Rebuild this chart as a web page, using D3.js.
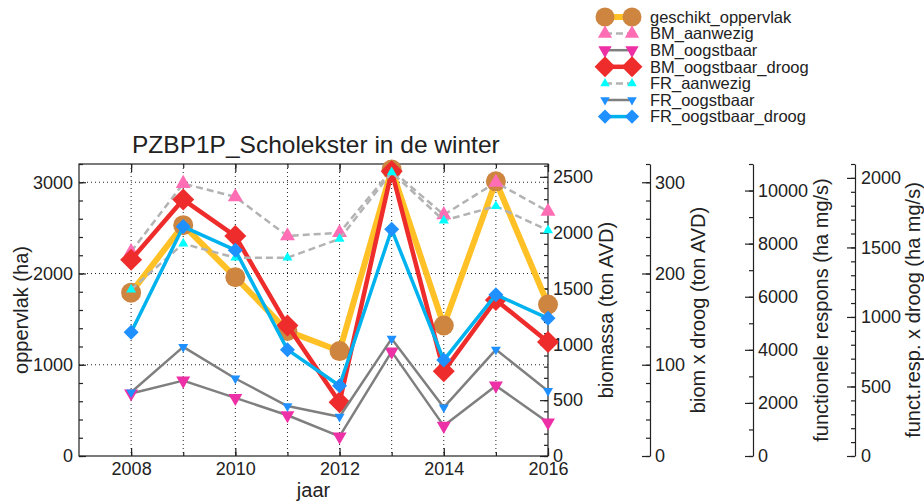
<!DOCTYPE html>
<html>
<head>
<meta charset="utf-8">
<script src="https://cdn.jsdelivr.net/npm/d3@7"></script>
<style>
  body { margin: 0; background: #fff; }
  svg { font-family: "Liberation Sans", Arial, sans-serif; }
</style>
</head>
<body>
<div class="canvas"></div>
<script>
// data
const years = [2008, 2009, 2010, 2011, 2012, 2013, 2014, 2015, 2016];
const geschiktOppervlak = [1790, 2530, 1960, 1370, 1150, 3140, 1430, 3010, 1660]; // ha
const bmAanwezig = [1830, 2440, 2320, 1970, 2000, 2560, 2160, 2450, 2190]; // ton AVD
const bmOogstbaar = [560, 675, 520, 365, 175, 935, 270, 630, 300]; // ton AVD
const bmOogstbaarDroog = [215, 281, 241, 143, 59, 312, 93, 171, 125]; // ton AVD
const frAanwezig = [6270, 8000, 7470, 7470, 8180, 10690, 8870, 9410, 8500]; // ha mg/s
const frOogstbaar = [2400, 4110, 2920, 1880, 1480, 4420, 1830, 4010, 2450]; // ha mg/s
const frOogstbaarDroog = [890, 1650, 1480, 765, 505, 1630, 690, 1160, 990]; // ha mg/s

const xTicks = [2008, 2010, 2012, 2014, 2016];
const oppTicks = [0, 1000, 2000, 3000];
const biomTicks = [0, 500, 1000, 1500, 2000, 2500];
const droogTicks = [0, 100, 200, 300];
const frTicks = [0, 2000, 4000, 6000, 8000, 10000];
const frDroogTicks = [0, 500, 1000, 1500, 2000];

const title = "PZBP1P_Scholekster in de winter";

// dimensions
const w = 924;
const h = 501;
const plot = { left: 79, right: 548, top: 164, bottom: 456 };

const svg = d3.select(".canvas").append("svg").attr("width", w).attr("height", h);

// scales
const x = d3.scaleLinear().domain([2007, 2016]).range([plot.left, plot.right]);
const yOpp = d3.scaleLinear().domain([0, 3200]).range([plot.bottom, plot.top]);
const yBiom = d3.scaleLinear().domain([0, 2615]).range([plot.bottom, plot.top]);
const yDroog = d3.scaleLinear().domain([0, 320]).range([plot.bottom, plot.top]);
const yFr = d3.scaleLinear().domain([0, 11000]).range([plot.bottom, plot.top]);
const yFrDroog = d3.scaleLinear().domain([0, 2100]).range([plot.bottom, plot.top]);

// grid
const grid = svg.append("g");
grid.selectAll("line.v")
  .data(years.slice(0, -1))
  .enter().append("line")
  .attr("x1", (d) => x(d)).attr("x2", (d) => x(d))
  .attr("y1", plot.top).attr("y2", plot.bottom)
  .attr("stroke", "#222").attr("stroke-dasharray", "1,3");
grid.selectAll("line.h")
  .data(oppTicks.slice(1))
  .enter().append("line")
  .attr("x1", plot.left).attr("x2", plot.right)
  .attr("y1", (d) => yOpp(d)).attr("y2", (d) => yOpp(d))
  .attr("stroke", "#222").attr("stroke-dasharray", "1,3");

// axis helper: major ticks with labels, minor ticks without
const addAxis = (axisFn, scale, major, minor, tx, ty, bigSize, smallSize, pad, keepDomain) => {
  const g = svg.append("g").attr("transform", `translate(${tx}, ${ty})`);
  g.append("g").call(axisFn(scale).tickValues(minor).tickSize(smallSize).tickSizeOuter(0).tickFormat(""))
    .call((s) => s.select(".domain").remove());
  const a = g.append("g")
    .call(axisFn(scale).tickValues(major).tickSize(bigSize).tickSizeOuter(0).tickPadding(pad).tickFormat(d3.format("d")));
  if (!keepDomain) a.select(".domain").remove();
  g.selectAll("line, path").attr("stroke", "#222").attr("stroke-width", 1.2);
  g.selectAll("text").attr("font-size", 18).attr("fill", "#222").attr("font-family", "Liberation Sans, Arial, sans-serif");
  return g;
};

// bottom and top
addAxis(d3.axisBottom, x, xTicks, years, 0, plot.bottom, -8, -4, 6, false);
addAxis(d3.axisTop, x, xTicks, years, 0, plot.top, -8, -4, 6, false).selectAll("text").remove();
// left
addAxis(d3.axisLeft, yOpp, oppTicks, d3.range(0, 3201, 200), plot.left, 0, -7, -4, 6, false);
// right axes
addAxis(d3.axisRight, yBiom, biomTicks, d3.range(0, 2601, 100), plot.right, 0, -8, -4, 5, false);
addAxis(d3.axisRight, yDroog, droogTicks, d3.range(0, 321, 20), 650, 0, -8, -4, 5, true);
addAxis(d3.axisRight, yFr, frTicks, d3.range(0, 11001, 1000), 753, 0, -8, -4, 5, true);
addAxis(d3.axisRight, yFrDroog, frDroogTicks, d3.range(0, 2101, 100), 855, 0, -8, -4, 6, true);

// frame
svg.append("rect")
  .attr("x", plot.left).attr("y", plot.top)
  .attr("width", plot.right - plot.left).attr("height", plot.bottom - plot.top)
  .attr("fill", "none").attr("stroke", "#222").attr("stroke-width", 1.2);

// markers
const shapes = {
  circle: (s) => `M${-s / 2},0a${s / 2},${s / 2} 0 1,0 ${s},0a${s / 2},${s / 2} 0 1,0 ${-s},0Z`,
  up: (s) => `M0,${-s * 0.58}L${s / 2},${s * 0.29}L${-s / 2},${s * 0.29}Z`,
  down: (s) => `M0,${s * 0.58}L${s / 2},${-s * 0.29}L${-s / 2},${-s * 0.29}Z`,
  diamond: (s) => `M0,${-s / 2}L${s / 2},0L0,${s / 2}L${-s / 2},0Z`,
};

const series = [
  { name: "geschikt_oppervlak", values: geschiktOppervlak, y: yOpp, line: "#FFC125", width: 6, dash: null, shape: "circle", size: 20, fill: "#CD853F" },
  { name: "BM_aanwezig", values: bmAanwezig, y: yBiom, line: "#B3B3B3", width: 2.5, dash: "7,4", shape: "up", size: 15, fill: "#FF6EB4" },
  { name: "BM_oogstbaar", values: bmOogstbaar, y: yBiom, line: "#7F7F7F", width: 2.5, dash: null, shape: "down", size: 14, fill: "#EE30A7" },
  { name: "BM_oogstbaar_droog", values: bmOogstbaarDroog, y: yDroog, line: "#EE2C2C", width: 4.5, dash: null, shape: "diamond", size: 22, fill: "#EE2C2C" },
  { name: "FR_aanwezig", values: frAanwezig, y: yFr, line: "#B3B3B3", width: 2.5, dash: "7,4", shape: "up", size: 10, fill: "#00FFFF" },
  { name: "FR_oogstbaar", values: frOogstbaar, y: yFr, line: "#7F7F7F", width: 2.5, dash: null, shape: "down", size: 10, fill: "#1E90FF" },
  { name: "FR_oogstbaar_droog", values: frOogstbaarDroog, y: yFrDroog, line: "#00B2EE", width: 3.5, dash: null, shape: "diamond", size: 15, fill: "#1E90FF" },
];

const chart = svg.append("g");
series.forEach((s) => {
  const pts = years.map((yr, i) => [x(yr), s.y(s.values[i])]);
  chart.append("path")
    .attr("d", d3.line()(pts))
    .attr("fill", "none")
    .attr("stroke", s.line)
    .attr("stroke-width", s.width)
    .attr("stroke-linejoin", "round")
    .attr("stroke-dasharray", s.dash);
  chart.selectAll(null)
    .data(pts)
    .enter().append("path")
    .attr("transform", (d) => `translate(${d[0]}, ${d[1]})`)
    .attr("d", shapes[s.shape](s.size))
    .attr("fill", s.fill);
});

// legend
const legend = svg.append("g");
series.forEach((s, i) => {
  const ly = 17 + i * 16.6;
  legend.append("line")
    .attr("x1", 605).attr("x2", 632).attr("y1", ly).attr("y2", ly)
    .attr("stroke", s.line).attr("stroke-width", s.width).attr("stroke-dasharray", s.dash);
  [605, 632].forEach((lx) => {
    legend.append("path")
      .attr("transform", `translate(${lx}, ${ly})`)
      .attr("d", shapes[s.shape](s.size * 0.95))
      .attr("fill", s.fill);
  });
  legend.append("text")
    .attr("x", 650).attr("y", ly).attr("dy", "0.35em")
    .attr("font-size", 16.5).attr("fill", "#222")
    .text(s.name);
});

// title and axis titles
svg.append("text")
  .attr("x", 132).attr("y", 153)
  .attr("font-size", 24.5).attr("fill", "#222")
  .text(title);

svg.append("text")
  .attr("x", (plot.left + plot.right) / 2).attr("y", 497)
  .attr("text-anchor", "middle").attr("font-size", 20).attr("fill", "#222")
  .text("jaar");

const yTitles = [
  { text: "oppervlak (ha)", x: 27.5 },
  { text: "biomassa (ton AVD)", x: 613 },
  { text: "biom x droog (ton AVD)", x: 705 },
  { text: "functionele respons (ha mg/s)", x: 828 },
  { text: "funct.resp. x droog (ha mg/s)", x: 920 },
];
yTitles.forEach((t) => {
  svg.append("text")
    .attr("transform", `translate(${t.x}, ${(plot.top + plot.bottom) / 2}) rotate(-90)`)
    .attr("text-anchor", "middle").attr("font-size", 20).attr("fill", "#222")
    .text(t.text);
});
</script>
</body>
</html>
